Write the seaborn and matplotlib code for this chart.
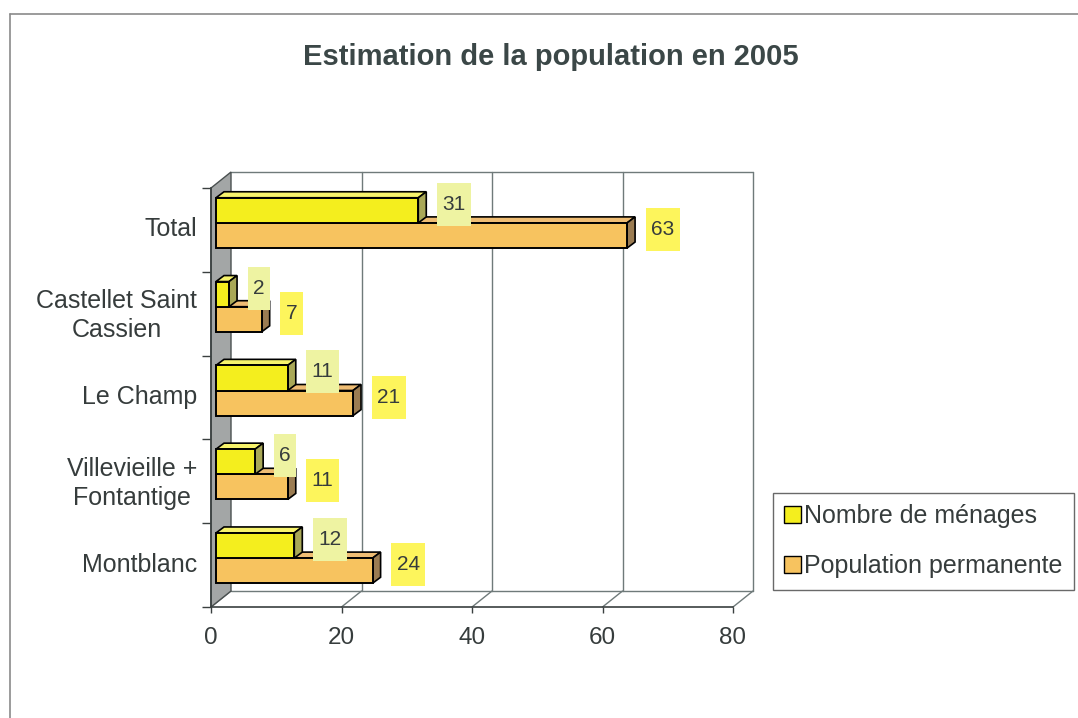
import numpy as np
import pandas as pd
import matplotlib
matplotlib.use("Agg")
import matplotlib.pyplot as plt
import seaborn as sns
from matplotlib.patches import Polygon, Rectangle
from matplotlib.lines import Line2D
from matplotlib.path import Path
from matplotlib.transforms import ScaledTranslation
from matplotlib.colors import to_rgba

# ---------------- data ----------------
communes = ["Total", "Castellet Saint\nCassien", "Le Champ",
            "Villevieille +\nFontantige", "Montblanc"]
menages = [31, 2, 11, 6, 12]
population = [63, 7, 21, 11, 24]
series = ["Nombre de ménages", "Population permanente"]
xticks = [0, 20, 40, 60, 80]
title = "Estimation de la population en 2005"

# ---------------- style ----------------
sns.set_style("white")
plt.rcParams["font.family"] = ["Liberation Sans", "DejaVu Sans"]
TXT = "#363c3c"

W, H, DPI = 1078, 718, 100
fig = plt.figure(figsize=(W / DPI, H / DPI), dpi=DPI)
L, R, T, B = 211, 733, 188, 607
ax = fig.add_axes([L / W, 1 - B / H, (R - L) / W, (B - T) / H])

front = {series[0]: "#f4ee1e", series[1]: "#f7c35f"}
topc = {series[0]: "#f7f36c", series[1]: "#efbd74"}
sidec = {series[0]: "#a9a857", series[1]: "#9b7c52"}
boxc = {series[0]: "#eef3a2", series[1]: "#fdf55c"}

df = pd.DataFrame({
    "commune": communes * 2,
    "valeur": menages + population,
    "serie": [series[0]] * len(communes) + [series[1]] * len(communes),
})
sns.barplot(data=df, y="commune", x="valeur", hue="serie", order=communes,
            hue_order=series, palette=front, width=0.6, orient="h",
            edgecolor="black", linewidth=1.4, saturation=1, errorbar=None,
            legend=False, ax=ax)

ax.set_xlim(0, 80)
ax.set_ylim(4.5, -0.5)
ax.set_xlabel("")
ax.set_ylabel("")


def shift(x, y, dx, dy):
    px, py = ax.transData.transform((x, y))
    return ax.transData.inverted().transform((px + dx, py + dy))


# back plane offset (pixels, y up)
PX, PY = 20, 16
y_top, y_bot = -0.5, 4.5
GRID = "#6f7a7a"

# wall
wall = Polygon([shift(0, y_bot, 0, 0), shift(0, y_top, 0, 0),
                shift(0, y_top, PX, PY), shift(0, y_bot, PX, PY)],
               closed=True, fc="#a3a6a6", ec="#4a5050", lw=1.0,
               zorder=1.5, clip_on=False)
ax.add_patch(wall)
# back gridlines
for xv in xticks[1:]:
    a, b = shift(xv, y_bot, PX, PY), shift(xv, y_top, PX, PY)
    ax.add_line(Line2D([a[0], b[0]], [a[1], b[1]], color=GRID, lw=1.0,
                       zorder=1, clip_on=False))
# back top and floor lines
for yv in (y_top, y_bot):
    a, b = shift(0, yv, PX, PY), shift(80, yv, PX, PY)
    ax.add_line(Line2D([a[0], b[0]], [a[1], b[1]], color=GRID, lw=1.0,
                       zorder=1, clip_on=False))
# floor slanted lines
for xv in xticks:
    a, b = shift(xv, y_bot, 0, 0), shift(xv, y_bot, PX, PY)
    ax.add_line(Line2D([a[0], b[0]], [a[1], b[1]], color=GRID, lw=1.0,
                       zorder=1, clip_on=False))

# 3D bars
BX, BY = 5, 7      # front-face offset
DX, DY = 8, 6      # bar depth
c0 = to_rgba(front[series[0]])


def label_box(x0, y0, width, height, mutation_size):
    px, py = 5.5, 12
    return Path([(x0 - px, y0 - py), (x0 + width + px, y0 - py),
                 (x0 + width + px, y0 + height + py),
                 (x0 - px, y0 + height + py), (x0 - px, y0 - py)], closed=True)


for p in list(ax.patches):
    if not isinstance(p, Rectangle) or p is wall:
        continue
    fc = p.get_facecolor()
    if np.allclose(fc, c0, atol=0.02):
        s, z = series[0], 4
    else:
        s, z = series[1], 3
    x0, y0, w, h = p.get_x(), p.get_y(), p.get_width(), p.get_height()
    p.set_transform(ax.transData + ScaledTranslation(BX / DPI, BY / DPI,
                                                     fig.dpi_scale_trans))
    p.set_zorder(z + 0.2)
    p.set_clip_on(False)
    top = Polygon([shift(x0, y0, BX, BY), shift(x0 + w, y0, BX, BY),
                   shift(x0 + w, y0, BX + DX, BY + DY),
                   shift(x0, y0, BX + DX, BY + DY)], closed=True,
                  fc=topc[s], ec="black", lw=1.2, zorder=z, clip_on=False)
    side = Polygon([shift(x0 + w, y0, BX, BY), shift(x0 + w, y0 + h, BX, BY),
                    shift(x0 + w, y0 + h, BX + DX, BY + DY),
                    shift(x0 + w, y0, BX + DX, BY + DY)], closed=True,
                   fc=sidec[s], ec="black", lw=1.2, zorder=z, clip_on=False)
    ax.add_patch(top)
    ax.add_patch(side)
    ax.annotate(f"{w:g}", xy=(x0 + w, y0 + h / 2), xytext=(BX + 24, BY + 6),
                textcoords="offset pixels", ha="left", va="center",
                fontsize=15, color=TXT, zorder=6,
                bbox=dict(boxstyle=label_box, fc=boxc[s], ec="none"))

# axes spines / ticks
for sp in ("top", "right"):
    ax.spines[sp].set_visible(False)
for sp in ("left", "bottom"):
    ax.spines[sp].set_color("#3a4040")
    ax.spines[sp].set_linewidth(1.2)
    ax.spines[sp].set_zorder(2)

ax.set_xticks(xticks)
ax.set_xticklabels([str(v) for v in xticks])
ax.tick_params(axis="x", length=4.5, width=1, color="#3a4040", pad=10,
               labelsize=17.5, labelcolor=TXT, direction="out", bottom=True)
ax.set_yticks(range(len(communes)))
ax.set_yticklabels(communes)
ax.set_yticks(np.arange(-0.5, len(communes)), minor=True)
ax.tick_params(axis="y", which="major", length=0, pad=10, labelsize=18,
               labelcolor=TXT, left=True)
ax.tick_params(axis="y", which="minor", length=6.5, width=1,
               color="#3a4040", direction="out", left=True)
for lab in ax.get_yticklabels():
    lab.set_multialignment("center")
    lab.set_linespacing(1.25)
    lab.set_transform(lab.get_transform() +
                      ScaledTranslation(0, 3 / DPI, fig.dpi_scale_trans))
ax.grid(False)

# legend
handles = [Rectangle((0, 0), 1, 1, fc=front[s], ec="black", lw=1.0)
           for s in series]
leg = fig.legend(handles, series, loc="upper left",
                 bbox_to_anchor=(773 / W, 1 - 493 / H), frameon=True,
                 fancybox=False, edgecolor="#444444", fontsize=18,
                 handlelength=0.65, handleheight=0.65, handletextpad=0.15,
                 borderpad=0.45, labelspacing=1.05, borderaxespad=0)
leg.get_frame().set_linewidth(1.0)
for t in leg.get_texts():
    t.set_color(TXT)

# title
fig.text(551 / W, 1 - 57 / H, title, ha="center", va="center",
         fontsize=21, fontweight="bold", color="#3b4747")

# outer chart border
fig.add_artist(Line2D([10 / W, 1], [1 - 14 / H, 1 - 14 / H],
                      transform=fig.transFigure, color="#8a8a8a", lw=1.2))
fig.add_artist(Line2D([10 / W, 10 / W], [0, 1 - 14 / H],
                      transform=fig.transFigure, color="#8a8a8a", lw=1.2))

fig.savefig("out.png", dpi=DPI)
